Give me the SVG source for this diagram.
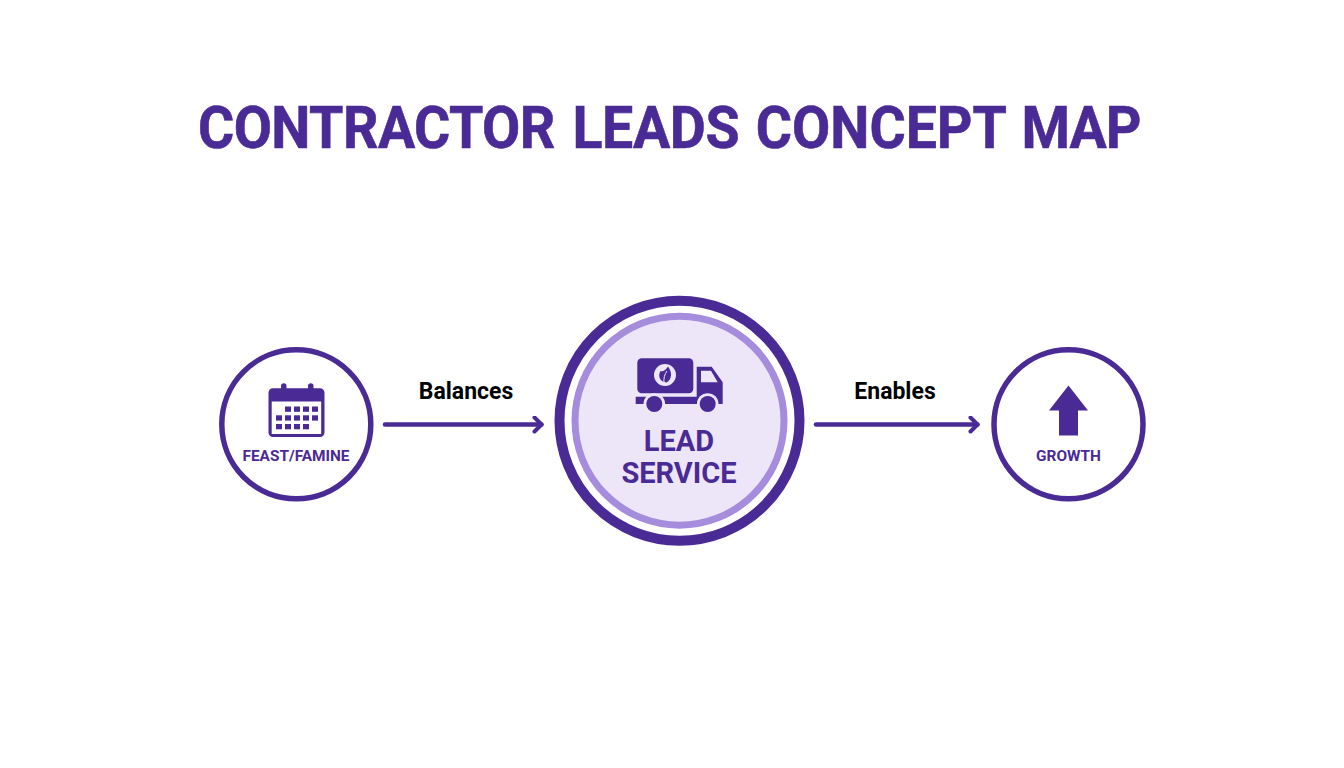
<svg xmlns="http://www.w3.org/2000/svg" width="1344" height="768" viewBox="0 0 1344 768">
<style>
text{font-family:Roboto,"Liberation Sans",sans-serif;font-weight:700;text-anchor:middle}
.p{fill:#4a2a95}
.bg{fill:#ece6f8}
.ring{fill:#fff;stroke:#4a2a95;stroke-width:5.5}
.lab{fill:#4a2a95;font-size:15.4px}
.edge{fill:#000;font-size:23px}
.cn{fill:none;stroke:#4a2a95;stroke-width:4.500;stroke-linecap:round;stroke-linejoin:round}
</style>
<defs><marker id="ah" markerUnits="userSpaceOnUse" markerWidth="14" markerHeight="18" refX="11" refY="9" orient="auto"><path d="M4 2L11 9L4 16" fill="none" stroke="#4a2a95" stroke-width="4" stroke-linecap="round" stroke-linejoin="round"/></marker></defs>
<rect width="1344" height="768" fill="#fff"/>
<text id="title" transform="translate(0 148.300) scale(.94 1)" font-size="59" class="p" stroke="#4a2a95" stroke-width=".6" style="text-anchor:start"><tspan x="210.600" y="0" letter-spacing="-.6">CONTRACTOR </tspan><tspan x="609" y="0" letter-spacing="-.4">LEADS </tspan><tspan x="804" y="0">CONCEPT </tspan><tspan x="1086.600" y="0" letter-spacing="-1">MAP</tspan></text>
<g id="connectors">
<path class="cn" marker-end="url(#ah)" d="M385 424.500H541.500"/>
<path class="cn" marker-end="url(#ah)" d="M816 424.500H977.500"/>
<text class="edge" x="466" y="399">Balances</text>
<text class="edge" x="895" y="399">Enables</text>
</g>
<g id="node-feast-famine">
<circle class="ring" cx="296.300" cy="424.300" r="74.500"/>
<path class="p" d="M273 388.300H281V386a2.500 2.500 0 0 1 5.500 0V388.300H308V386a2.500 2.500 0 0 1 5.500 0V388.300H320a4.500 4.500 0 0 1 4.500 4.500V432.500a4.500 4.500 0 0 1-4.500 4.500H273a4.500 4.500 0 0 1-4.500-4.500V392.800a4.500 4.500 0 0 1 4.500-4.500Z"/>
<rect x="271.700" y="401.500" width="49.500" height="32.500" fill="#fff"/>
<g class="p">
<rect x="285" y="406.500" width="6" height="5.300"/><rect x="294" y="406.500" width="6" height="5.300"/><rect x="303" y="406.500" width="6" height="5.300"/><rect x="312" y="406.500" width="6" height="5.300"/>
<rect x="276" y="415.300" width="6" height="5.300"/><rect x="285" y="415.300" width="6" height="5.300"/><rect x="294" y="415.300" width="6" height="5.300"/><rect x="303" y="415.300" width="6" height="5.300"/><rect x="312" y="415.300" width="6" height="5.300"/>
<rect x="276" y="424" width="6" height="5.300"/><rect x="285" y="424" width="6" height="5.300"/><rect x="294" y="424" width="6" height="5.300"/><rect x="303" y="424" width="6" height="5.300"/>
</g>
<text class="lab" x="296" y="461">FEAST/FAMINE</text>
</g>
<g id="node-lead-service">
<circle cx="679.500" cy="420.700" r="120" fill="#fff" stroke="#4a2a95" stroke-width="10"/>
<circle cx="679.500" cy="420.700" r="104.500" class="bg" stroke="#a58cdc" stroke-width="7"/>
<rect class="p" x="637.300" y="358.300" width="56" height="35" rx="4.500"/>
<path class="p" d="M635.700 396.700H696.700V366.700H711.700L722.700 382.300V404H635.700Z"/>
<path class="bg" d="M701 370.700H711L717.700 382.300H701Z"/>
<circle class="bg" cx="654.300" cy="404" r="10.800"/><circle class="bg" cx="707.700" cy="404" r="10.800"/>
<rect class="bg" x="630" y="404" width="96" height="12"/>
<circle class="p" cx="654.300" cy="404" r="8"/><circle class="p" cx="707.700" cy="404" r="8"/>
<circle class="bg" cx="665" cy="375" r="11"/>
<path class="p" d="M668 366.500C672.500 372 672 379.500 666.500 382.500C660 382 657.500 376 660.500 371C663 372 665.500 370.500 668 366.500Z"/>
<path d="M664 383C663.500 378 664.500 374.500 667 371" fill="none" stroke="#ece6f8" stroke-width="1"/>
<text class="p" x="679" y="451" font-size="29">LEAD</text>
<text class="p" x="679" y="483" font-size="29">SERVICE</text>
</g>
<g id="node-growth">
<circle class="ring" cx="1068.500" cy="424.300" r="74.500"/>
<path class="p" d="M1068.500 385.500L1088 410.500H1078V435.500H1059V410.500H1049Z"/>
<text class="lab" x="1068.500" y="461">GROWTH</text>
</g>
</svg>
